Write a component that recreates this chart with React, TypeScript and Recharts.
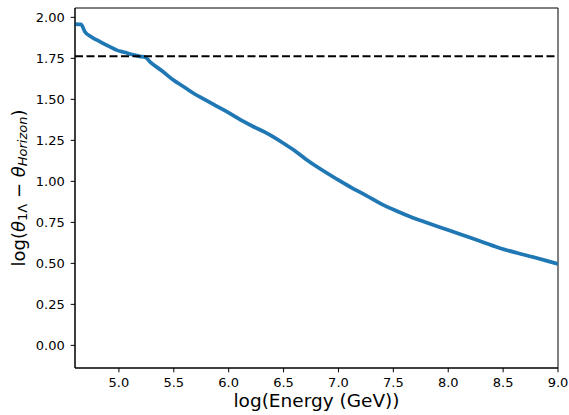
import React from "react";
import {
  LineChart,
  Line,
  XAxis,
  YAxis,
  ReferenceLine,
  ReferenceArea,
} from "recharts";

// log10 energy (GeV) along the curve
const energy = [
  4.6, 4.655, 4.69, 4.75, 4.83, 4.92, 4.98, 5.05, 5.13, 5.19, 5.24, 5.283,
  5.4, 5.496, 5.59, 5.679, 5.77, 5.862, 5.95, 6.044, 6.13, 6.227, 6.32, 6.41,
  6.5, 6.593, 6.7, 6.836, 6.99, 7.11, 7.25, 7.38, 7.52, 7.655, 7.8, 7.93, 8.11,
  8.3, 8.48, 8.63, 8.78, 8.9, 9.0,
];

// log(theta_1L - theta_horizon)
const thetaDiff = [
  1.959, 1.957, 1.912, 1.88, 1.851, 1.82, 1.8, 1.787, 1.772, 1.762, 1.757,
  1.729, 1.67, 1.618, 1.577, 1.537, 1.503, 1.469, 1.437, 1.401, 1.367, 1.333,
  1.303, 1.27, 1.232, 1.191, 1.137, 1.075, 1.012, 0.965, 0.915, 0.866, 0.822,
  0.784, 0.749, 0.719, 0.677, 0.634, 0.591, 0.563, 0.537, 0.515, 0.496,
];

const cutoff = 1.763;

const xTicks = [5.0, 5.5, 6.0, 6.5, 7.0, 7.5, 8.0, 8.5, 9.0];
const yTicks = [0, 0.25, 0.5, 0.75, 1.0, 1.25, 1.5, 1.75, 2.0];

const X_DOMAIN: [number, number] = [4.6, 9.0];
const Y_DOMAIN: [number, number] = [-0.138, 2.057];

const FONT = "DejaVu Sans, sans-serif";

const data = energy.map((x, i) => ({ x, y: thetaDiff[i] }));

function YTitle(props: any) {
  const vb = props.viewBox || {};
  const cx = vb.x + 18;
  const cy = vb.y + vb.height / 2;
  return (
    <text
      x={cx}
      y={cy}
      transform={`rotate(-90 ${cx} ${cy})`}
      textAnchor="middle"
      dominantBaseline="central"
      fontFamily={FONT}
      fontSize={18}
      fill="#000"
    >
      log(
      <tspan fontStyle="italic">θ</tspan>
      <tspan fontSize={13} dy={4}>
        1Λ
      </tspan>
      <tspan dy={-4}> − </tspan>
      <tspan fontStyle="italic">θ</tspan>
      <tspan fontSize={13} fontStyle="italic" dy={4}>
        Horizon
      </tspan>
      <tspan dy={-4}>)</tspan>
    </text>
  );
}

function XTitle(props: any) {
  const vb = props.viewBox || {};
  return (
    <text
      x={vb.x + vb.width / 2}
      y={407}
      textAnchor="middle"
      fontFamily={FONT}
      fontSize={18.5}
      fill="#000"
    >
      log(Energy (GeV))
    </text>
  );
}

export default function App() {
  return (
    <div style={{ position: "absolute", left: 0, top: 0, background: "#fff" }}>
      <LineChart
        width={569}
        height={415}
        data={data}
        margin={{ top: 8, right: 11, bottom: 0, left: 0 }}
      >
        <XAxis
          type="number"
          dataKey="x"
          domain={X_DOMAIN}
          ticks={xTicks}
          allowDataOverflow
          height={47}
          tickSize={4.3}
          tickMargin={5}
          tickFormatter={(v: number) => v.toFixed(1)}
          tick={{ fontSize: 13, fill: "#000", fontFamily: FONT }}
          tickLine={{ stroke: "#000" }}
          axisLine={{ stroke: "#000" }}
          label={<XTitle />}
        />
        <YAxis
          type="number"
          domain={Y_DOMAIN}
          ticks={yTicks}
          allowDataOverflow
          width={75}
          tickSize={4.3}
          tickMargin={6}
          tickFormatter={(v: number) => v.toFixed(2)}
          tick={{ fontSize: 13, fill: "#000", fontFamily: FONT }}
          tickLine={{ stroke: "#000" }}
          axisLine={{ stroke: "#000" }}
          label={<YTitle />}
        />
        <ReferenceArea
          x1={X_DOMAIN[0]}
          x2={X_DOMAIN[1]}
          y1={Y_DOMAIN[0]}
          y2={Y_DOMAIN[1]}
          fill="none"
          stroke="#000"
          strokeWidth={1}
          ifOverflow="visible"
        />
        <Line
          type="monotone"
          dataKey="y"
          stroke="#1f77b4"
          strokeWidth={3.7}
          dot={false}
          isAnimationActive={false}
        />
        <ReferenceLine
          y={cutoff}
          stroke="#000"
          strokeWidth={2}
          strokeDasharray="8 3.5"
        />
      </LineChart>
    </div>
  );
}
